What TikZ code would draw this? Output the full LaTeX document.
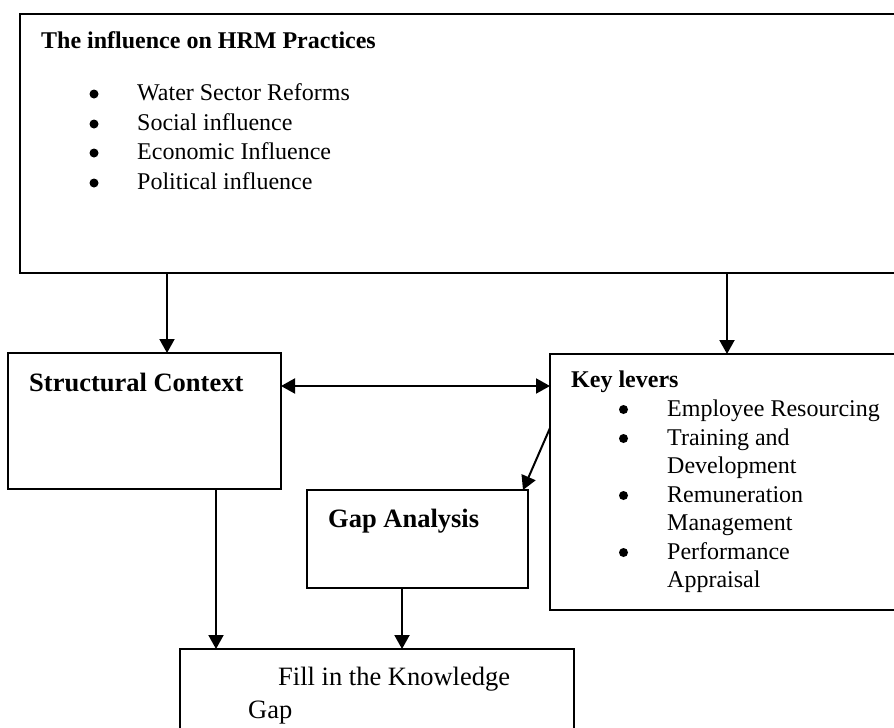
\documentclass[tikz,border=0pt]{standalone}
\usepackage{fontspec}
\setmainfont{Liberation Serif}
\usetikzlibrary{arrows.meta,calc}
\begin{document}
\begin{tikzpicture}[x=1pt,y=-1pt,
  box/.style={draw=black, line width=2pt, inner sep=0pt, outer sep=0pt, anchor=north west},
  arr/.style={line width=2pt, -{Triangle[length=14pt,width=15pt]}},
  dblarr/.style={line width=2pt, {Triangle[length=14pt,width=15pt]}-{Triangle[length=14pt,width=15pt]}},
  txt/.style={anchor=base west, inner sep=0pt, font=\fontsize{24}{29}\selectfont},
  head/.style={anchor=base west, inner sep=0pt, font=\fontsize{24}{29}\selectfont\bfseries},
  bighead/.style={anchor=base west, inner sep=0pt, font=\fontsize{26.5}{32}\selectfont\bfseries},
  bigtxt/.style={anchor=base west, inner sep=0pt, font=\fontsize{26.5}{32}\selectfont},
  dot/.style={circle, fill=black, inner sep=0pt, minimum size=9pt}]

\useasboundingbox (0,0) rectangle (894,728);
\clip (0,0) rectangle (894,728);

% boxes
\node[box, minimum width=900pt, minimum height=259pt] (infl) at (20,14) {};
\node[box, minimum width=273pt, minimum height=136pt] (sc) at (8,353) {};
\node[box, minimum width=360pt, minimum height=256pt] (kl) at (550,354) {};
\node[box, minimum width=221pt, minimum height=98pt] (gap) at (307,490) {};
\node[box, minimum width=394pt, minimum height=100pt] (fill) at (180,649) {};

% influences
\node[head] (t1) at (41,48) {The influence on HRM Practices};
\node[dot] (b1) at (94,94) {};
\node[dot] (b2) at (94,124) {};
\node[dot] (b3) at (94,153) {};
\node[dot] (b4) at (94,183) {};
\node[txt] (i1) at (137,100) {Water Sector Reforms};
\node[txt] (i2) at (137,130) {Social influence};
\node[txt] (i3) at (137,159) {Economic Influence};
\node[txt] (i4) at (137,189) {Political influence};

% structural context
\node[bighead] (t2) at (29,391) {Structural Context};

% key levers
\node[head] (t3) at (571,387) {Key levers};
\node[dot] (k1) at (623.5,409.5) {};
\node[dot] (k2) at (623.5,438.5) {};
\node[dot] (k3) at (623.5,495.5) {};
\node[dot] (k4) at (623.5,552.5) {};
\node[txt] (l1) at (667,416) {Employee Resourcing};
\node[txt] (l2) at (667,445) {Training and};
\node[txt] (l3) at (667,473) {Development};
\node[txt] (l4) at (667,502) {Remuneration};
\node[txt] (l5) at (667,530) {Management};
\node[txt] (l6) at (667,559) {Performance};
\node[txt] (l7) at (667,587) {Appraisal};

% gap analysis and outcome
\node[bighead] (t4) at (328,527) {Gap Analysis};
\node[bigtxt] (t5) at (278,685) {Fill in the Knowledge};
\node[bigtxt] (t6) at (248,718) {Gap};

% connectors
\coordinate (c1) at ($(sc.north west)+(159,0)$);
\coordinate (c2) at ($(kl.north west)+(177,0)$);
\coordinate (c3) at ($(sc.north east)+(0,33)$);
\coordinate (c4) at ($(sc.south west)+(208,0)$);
\coordinate (c5) at ($(gap.south west)+(95,0)$);
\coordinate (c6) at ($(kl.north west)+(0,74)$);
\coordinate (c7) at ($(gap.north east)+(-5,0)$);

\draw[arr] (c1 |- infl.south) -- (c1);
\draw[arr] (c2 |- infl.south) -- (c2);
\draw[dblarr] (c3) -- (c3 -| kl.west);
\draw[arr] (c6) -- (c7);
\draw[arr] (c4) -- (c4 |- fill.north);
\draw[arr] (c5) -- (c5 |- fill.north);
\end{tikzpicture}
\end{document}
